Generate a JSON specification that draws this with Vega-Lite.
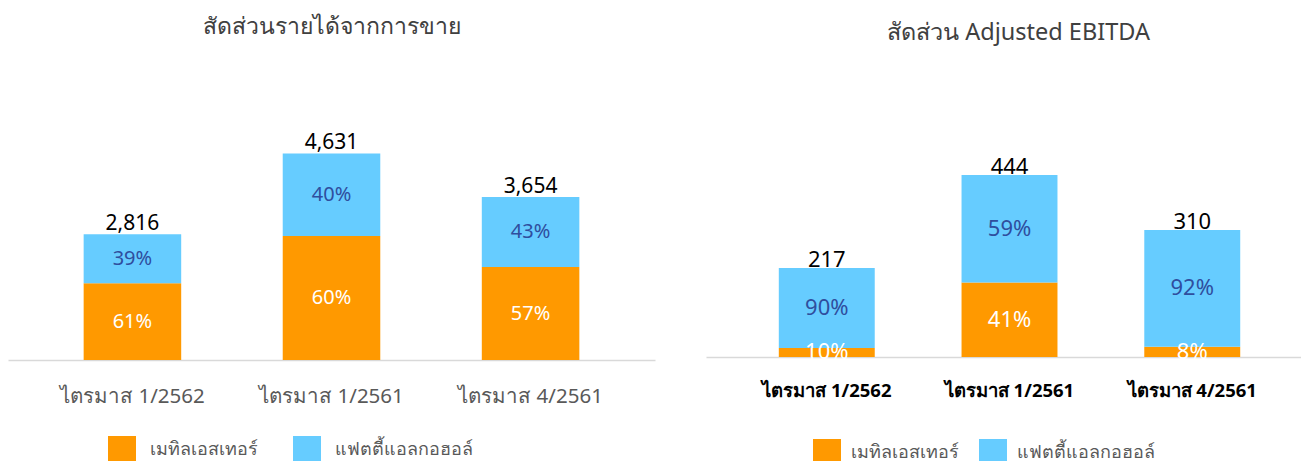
{
  "$schema": "https://vega.github.io/schema/vega-lite/v6.json",
  "padding": {"left": 8, "top": 16, "right": 0, "bottom": 0},
  "background": "#FFFFFF",
  "spacing": 51,
  "config": {
    "font": "Noto Sans",
    "view": {"stroke": null},
    "axis": {"grid": false}
  },
  "datasets": {
    "sales": [
      {"quarter": "ไตรมาส 1/2562", "product": "เมทิลเอสเทอร์", "share": 0.61, "amount": 1718},
      {"quarter": "ไตรมาส 1/2562", "product": "แฟตตี้แอลกอฮอล์", "share": 0.39, "amount": 1098},
      {"quarter": "ไตรมาส 1/2561", "product": "เมทิลเอสเทอร์", "share": 0.60, "amount": 2779},
      {"quarter": "ไตรมาส 1/2561", "product": "แฟตตี้แอลกอฮอล์", "share": 0.40, "amount": 1852},
      {"quarter": "ไตรมาส 4/2561", "product": "เมทิลเอสเทอร์", "share": 0.57, "amount": 2083},
      {"quarter": "ไตรมาส 4/2561", "product": "แฟตตี้แอลกอฮอล์", "share": 0.43, "amount": 1571}
    ],
    "salesTot": [
      {"quarter": "ไตรมาส 1/2562", "total": 2816},
      {"quarter": "ไตรมาส 1/2561", "total": 4631},
      {"quarter": "ไตรมาส 4/2561", "total": 3654}
    ],
    "ebitda": [
      {"quarter": "ไตรมาส 1/2562", "product": "เมทิลเอสเทอร์", "share": 0.10, "amount": 22},
      {"quarter": "ไตรมาส 1/2562", "product": "แฟตตี้แอลกอฮอล์", "share": 0.90, "amount": 195},
      {"quarter": "ไตรมาส 1/2561", "product": "เมทิลเอสเทอร์", "share": 0.41, "amount": 182},
      {"quarter": "ไตรมาส 1/2561", "product": "แฟตตี้แอลกอฮอล์", "share": 0.59, "amount": 262},
      {"quarter": "ไตรมาส 4/2561", "product": "เมทิลเอสเทอร์", "share": 0.08, "amount": 25},
      {"quarter": "ไตรมาส 4/2561", "product": "แฟตตี้แอลกอฮอล์", "share": 0.92, "amount": 285}
    ],
    "ebitdaTot": [
      {"quarter": "ไตรมาส 1/2562", "total": 217},
      {"quarter": "ไตรมาส 1/2561", "total": 444},
      {"quarter": "ไตรมาส 4/2561", "total": 310}
    ]
  },
  "resolve": {
    "scale": {"x": "independent", "y": "independent", "color": "independent"},
    "legend": {"color": "independent"}
  },
  "hconcat": [
    {
      "width": 647,
      "height": 290,
      "title": {"text": "สัดส่วนรายได้จากการขาย", "fontSize": 23, "fontWeight": "normal", "color": "#404040", "offset": 31, "anchor": "middle"},
      "layer": [
        {
          "data": {"name": "sales"},
          "mark": {"type": "bar"},
          "encoding": {
            "x": {"field": "quarter", "type": "nominal", "sort": ["ไตรมาส 1/2562", "ไตรมาส 1/2561", "ไตรมาส 4/2561"],
                  "scale": {"paddingInner": 0.51, "paddingOuter": 0.38},
                  "axis": {"title": null, "labelAngle": 0, "ticks": false, "domainColor": "#D9D9D9", "domainWidth": 1.5, "labelFontSize": 20.5, "labelColor": "#595959", "labelPadding": 26}},
            "y": {"field": "amount", "type": "quantitative", "stack": "zero", "scale": {"domain": [0, 6160]}, "axis": null},
            "color": {"field": "product", "type": "nominal",
                      "scale": {"domain": ["เมทิลเอสเทอร์", "แฟตตี้แอลกอฮอล์"], "range": ["#FF9900", "#66CCFF"]},
                      "legend": {"orient": "none", "legendX": 100, "legendY": 366, "direction": "horizontal", "title": null, "symbolType": "square", "symbolSize": 784, "symbolStrokeWidth": 0, "labelFontSize": 18, "labelColor": "#595959", "labelOffset": 14, "columnPadding": 35}},
            "order": {"field": "product", "sort": "ascending"}
          }
        },
        {
          "data": {"name": "sales"},
          "transform": [
            {"stack": "amount", "groupby": ["quarter"], "sort": [{"field": "product", "order": "ascending"}], "as": ["a0", "a1"]},
            {"fold": ["a0", "a1"], "as": ["edge", "pos"]},
            {"aggregate": [{"op": "mean", "field": "pos", "as": "mid"}], "groupby": ["quarter", "product", "share"]}
          ],
          "mark": {"type": "text", "fontSize": 20},
          "encoding": {
            "x": {"field": "quarter", "type": "nominal", "sort": ["ไตรมาส 1/2562", "ไตรมาส 1/2561", "ไตรมาส 4/2561"]},
            "y": {"field": "mid", "type": "quantitative", "axis": null},
            "text": {"field": "share", "type": "quantitative", "format": ".0%"},
            "fill": {"field": "product", "type": "nominal", "scale": {"domain": ["เมทิลเอสเทอร์", "แฟตตี้แอลกอฮอล์"], "range": ["#FFFFFF", "#2F4E9E"]}, "legend": null}
          }
        },
        {
          "data": {"name": "salesTot"},
          "mark": {"type": "text", "fontSize": 21, "color": "#000000", "baseline": "alphabetic", "dy": -4},
          "encoding": {
            "x": {"field": "quarter", "type": "nominal", "sort": ["ไตรมาส 1/2562", "ไตรมาส 1/2561", "ไตรมาส 4/2561"]},
            "y": {"field": "total", "type": "quantitative", "axis": null},
            "text": {"field": "total", "type": "quantitative", "format": ",d"}
          }
        }
      ]
    },
    {
      "width": 595,
      "height": 287,
      "title": {"text": "สัดส่วน Adjusted EBITDA", "fontSize": 23.5, "fontWeight": "normal", "color": "#404040", "offset": 26, "anchor": "middle", "dx": 15},
      "layer": [
        {
          "data": {"name": "ebitda"},
          "mark": {"type": "bar"},
          "encoding": {
            "x": {"field": "quarter", "type": "nominal", "sort": ["ไตรมาส 1/2562", "ไตรมาส 1/2561", "ไตรมาส 4/2561"],
                  "scale": {"paddingInner": 0.475, "paddingOuter": 0.3655, "align": 0.545},
                  "axis": {"title": null, "labelAngle": 0, "ticks": false, "domainColor": "#D9D9D9", "domainWidth": 1.5, "labelFontSize": 18.5, "labelFontWeight": "bold", "labelColor": "#000000", "labelPadding": 24}},
            "y": {"field": "amount", "type": "quantitative", "stack": "zero", "scale": {"domain": [0, 689]}, "axis": null},
            "color": {"field": "product", "type": "nominal",
                      "scale": {"domain": ["เมทิลเอสเทอร์", "แฟตตี้แอลกอฮอล์"], "range": ["#FF9900", "#66CCFF"]},
                      "legend": {"orient": "none", "legendX": 107, "legendY": 369, "direction": "horizontal", "title": null, "symbolType": "square", "symbolSize": 784, "symbolStrokeWidth": 0, "labelFontSize": 18, "labelColor": "#595959", "labelOffset": 10, "columnPadding": 20}},
            "order": {"field": "product", "sort": "ascending"}
          }
        },
        {
          "data": {"name": "ebitda"},
          "transform": [
            {"stack": "amount", "groupby": ["quarter"], "sort": [{"field": "product", "order": "ascending"}], "as": ["a0", "a1"]},
            {"fold": ["a0", "a1"], "as": ["edge", "pos"]},
            {"aggregate": [{"op": "mean", "field": "pos", "as": "mid"}], "groupby": ["quarter", "product", "share"]}
          ],
          "mark": {"type": "text", "fontSize": 22},
          "encoding": {
            "x": {"field": "quarter", "type": "nominal", "sort": ["ไตรมาส 1/2562", "ไตรมาส 1/2561", "ไตรมาส 4/2561"]},
            "y": {"field": "mid", "type": "quantitative", "axis": null},
            "text": {"field": "share", "type": "quantitative", "format": ".0%"},
            "fill": {"field": "product", "type": "nominal", "scale": {"domain": ["เมทิลเอสเทอร์", "แฟตตี้แอลกอฮอล์"], "range": ["#FFFFFF", "#2F4E9E"]}, "legend": null}
          }
        },
        {
          "data": {"name": "ebitdaTot"},
          "mark": {"type": "text", "fontSize": 22, "color": "#000000", "baseline": "alphabetic", "dy": -1},
          "encoding": {
            "x": {"field": "quarter", "type": "nominal", "sort": ["ไตรมาส 1/2562", "ไตรมาส 1/2561", "ไตรมาส 4/2561"]},
            "y": {"field": "total", "type": "quantitative", "axis": null},
            "text": {"field": "total", "type": "quantitative", "format": ",d"}
          }
        }
      ]
    }
  ]
}
